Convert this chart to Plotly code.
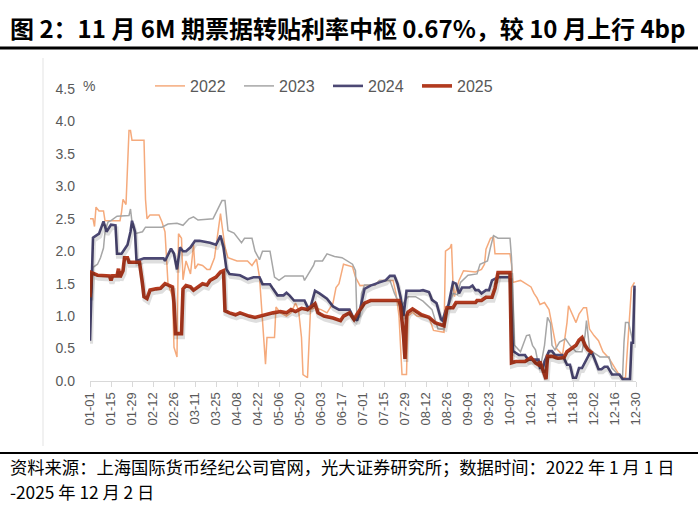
import plotly.graph_objects as go

# x = day offset from 01-01 on a common calendar axis
tick_labels = ["01-01", "01-15", "01-29", "02-12", "02-26", "03-11", "03-25", "04-08", "04-22",
               "05-06", "05-20", "06-03", "06-17", "07-01", "07-15", "07-29", "08-12", "08-26",
               "09-09", "09-23", "10-07", "10-21", "11-04", "11-18", "12-02", "12-16", "12-30"]
tick_days = [14 * i for i in range(len(tick_labels))]

days_2022 = [0, 2, 3, 4, 6, 9, 10, 20, 21, 22, 24, 25, 26, 27, 28, 36, 37, 38, 40, 46,
             48, 50, 52, 55, 56, 58, 59, 61, 62, 64, 67, 69, 70, 72, 75, 78, 80, 83, 85, 87,
             88, 90, 92, 98, 105, 108, 111, 113, 115, 117, 118, 123, 124, 127, 131, 134, 137, 139, 141, 142,
             145, 146, 147, 150, 154, 158, 162, 164, 166, 169, 172, 175, 177, 180, 190, 193, 202, 204, 206, 208,
             211, 212, 215, 218, 226, 229, 236, 237, 240, 241, 242, 243, 246, 249, 257, 261, 263, 264, 267, 269,
             270, 280, 281, 282, 287, 291, 294, 296, 298, 300, 303, 306, 308, 311, 315, 318, 319, 321, 324, 326,
             329, 331, 333, 336, 339, 342, 346, 350, 354, 357, 359, 361, 363]
vals_2022 = [2.5, 2.5, 2.38, 2.68, 2.62, 2.62, 2.47, 2.47, 2.6, 2.8, 2.72, 3.3, 3.86, 3.86, 3.71, 3.71, 2.8, 2.5, 2.56, 2.56,
             2.45, 2.3, 1.5, 1.3, 0.52, 0.37, 2.27, 2.2, 1.56, 1.85, 1.65, 2.1, 1.73, 1.8, 1.78, 1.72, 1.72, 1.9, 2.27, 2.58,
             2.4, 2.06, 1.9, 1.85, 1.85, 1.78, 1.88, 1.6, 0.93, 0.26, 0.67, 0.67, 1.14, 1.05, 1.0, 1.05, 1.2, 1.1, 0.67, 0.1,
             0.05, 0.5, 1.1, 1.13, 1.1, 1.05, 1.2, 1.44, 1.5, 1.8, 1.78, 1.76, 1.6, 1.47, 1.48, 1.55, 1.55, 1.35, 1.0, 0.1,
             0.1, 1.0, 1.06, 1.0, 0.98, 0.78, 0.75, 2.0, 2.05, 2.11, 1.5, 1.3, 1.55, 1.7, 1.68, 1.72, 1.8, 2.03, 2.2, 2.22,
             1.96, 1.96, 1.8, 1.52, 1.55, 1.5, 1.45, 1.35, 1.28, 1.18, 1.21, 1.1, 0.85, 0.5, 0.4, 0.9, 1.16, 1.05, 0.9, 1.03,
             1.13, 1.13, 0.8, 0.7, 0.62, 0.45, 0.35, 0.2, 0.05, 0.05, 0.7, 1.44, 1.52]

days_2023 = [1, 2, 5, 7, 9, 10, 12, 14, 18, 26, 27, 28, 30, 35, 37, 48, 52, 58, 62, 66,
             69, 72, 82, 85, 88, 90, 91, 92, 96, 101, 103, 108, 110, 113, 115, 120, 123, 126, 130, 142,
             143, 145, 149, 150, 155, 158, 163, 168, 172, 175, 177, 178, 180, 181, 183, 190, 193, 200, 203, 205,
             207, 209, 212, 217, 222, 228, 232, 236, 238, 242, 245, 247, 252, 258, 260, 265, 267, 269, 272, 280,
             281, 283, 287, 291, 293, 295, 297, 299, 301, 303, 305, 307, 308, 310, 313, 317, 320, 324, 328, 330,
             331, 333, 335, 337, 340, 346, 348, 352, 355, 356, 357, 359, 360, 362]
vals_2023 = [1.35, 1.75, 1.8, 1.9, 2.05, 2.3, 2.45, 2.47, 2.54, 2.55, 2.65, 2.45, 2.27, 2.3, 2.37, 2.37, 2.42, 2.43, 2.4, 2.5,
             2.53, 2.48, 2.5, 2.63, 2.78, 2.78, 2.5, 2.32, 2.28, 2.13, 2.2, 2.2, 2.0, 1.87, 2.0, 2.0, 1.6, 1.55, 1.62, 1.62,
             1.55, 1.62, 1.78, 1.85, 1.85, 1.96, 1.92, 1.9, 1.84, 1.8, 1.7, 0.93, 1.0, 1.35, 1.48, 1.48, 1.55, 1.55, 1.35, 1.25,
             1.1, 1.2, 1.3, 1.3, 1.23, 1.1, 0.8, 0.8, 1.08, 1.35, 1.33, 1.52, 1.63, 1.65, 1.8, 1.85, 2.06, 2.24, 2.2, 2.2,
             1.9, 0.55, 0.45, 0.7, 0.71, 0.55, 0.48, 0.25, 0.3, 0.55, 0.98, 0.89, 0.55, 0.48, 0.6, 0.65, 0.55, 0.45, 0.45, 0.7,
             0.93, 0.5, 0.45, 0.42, 0.37, 0.37, 0.2, 0.1, 0.05, 0.6, 0.9, 0.9, 0.78, 0.6]

days_2024 = [0, 2, 6, 9, 11, 14, 17, 18, 21, 25, 27, 28, 30, 31, 36, 49, 50, 54, 56, 58,
             60, 62, 64, 67, 70, 73, 80, 84, 87, 89, 91, 93, 100, 105, 109, 113, 115, 120, 122, 125,
             129, 131, 133, 136, 143, 145, 147, 150, 153, 158, 162, 166, 173, 175, 178, 180, 183, 187, 193, 197,
             200, 203, 205, 207, 209, 211, 220, 222, 226, 228, 231, 234, 235, 237, 239, 242, 244, 246, 248, 253,
             255, 257, 259, 261, 264, 266, 268, 270, 272, 280, 282, 286, 290, 292, 296, 299, 300, 302, 303, 306,
             308, 310, 315, 318, 320, 322, 324, 326, 328, 330, 333, 335, 337, 339, 341, 343, 345, 348, 353, 355,
             360, 361, 362, 363]
vals_2024 = [0.62, 2.21, 2.27, 2.46, 2.3, 2.41, 2.4, 1.96, 1.96, 2.1, 2.3, 2.47, 2.3, 1.85, 1.89, 1.89, 1.85, 2.04, 1.96, 1.72,
             2.06, 2.0, 2.0, 2.06, 2.16, 2.16, 2.13, 2.1, 2.24, 2.06, 1.72, 1.65, 1.63, 1.57, 1.6, 1.6, 1.49, 1.49, 1.42, 1.32,
             1.32, 1.36, 1.32, 1.24, 1.24, 1.14, 1.14, 1.39, 1.35, 1.27, 1.15, 1.1, 1.1, 1.0, 0.93, 1.1, 1.42, 1.47, 1.52, 1.55,
             1.62, 1.62, 1.5, 1.3, 1.0, 1.39, 1.39, 1.4, 1.37, 1.25, 1.2, 0.95, 0.93, 1.08, 1.18, 1.52, 1.5, 1.35, 1.44, 1.44,
             1.47, 1.4, 1.4, 1.35, 1.4, 1.4, 1.55, 1.57, 1.6, 1.6, 0.46, 0.4, 0.4, 0.33, 0.33, 0.33, 0.2, 0.2, 0.3, 0.46,
             0.46, 0.4, 0.4, 0.25, 0.25, 0.05, 0.05, 0.2, 0.2, 0.28, 0.42, 0.42, 0.3, 0.18, 0.18, 0.22, 0.22, 0.1, 0.1, 0.03,
             0.03, 0.59, 0.59, 1.47]

days_2025 = [0, 1, 5, 13, 14, 15, 18, 19, 20, 22, 23, 25, 26, 33, 35, 36, 38, 40, 44, 47,
             50, 53, 55, 56, 57, 61, 62, 64, 67, 69, 72, 75, 78, 80, 84, 87, 89, 90, 93, 97,
             100, 103, 106, 110, 113, 118, 122, 127, 131, 134, 137, 141, 145, 150, 152, 156, 162, 167, 169, 173,
             176, 178, 181, 183, 185, 187, 206, 207, 209, 210, 211, 212, 215, 217, 221, 226, 230, 236, 237, 238,
             242, 244, 257, 258, 261, 264, 268, 270, 272, 280, 281, 284, 290, 294, 297, 299, 300, 302, 304, 305,
             308, 312, 316, 318, 322, 324, 326, 328, 330, 332, 335]
vals_2025 = [1.29, 1.67, 1.63, 1.62, 1.55, 1.62, 1.62, 1.73, 1.6, 1.7, 1.9, 1.9, 1.83, 1.83, 1.5, 1.3, 1.27, 1.4, 1.42, 1.43,
             1.5, 1.47, 1.45, 1.2, 0.73, 0.73, 1.42, 1.47, 1.45, 1.4, 1.45, 1.5, 1.48, 1.55, 1.6, 1.68, 1.7, 1.08, 1.05, 1.02,
             1.05, 1.02, 1.0, 0.98, 1.0, 1.02, 1.05, 1.07, 1.05, 1.1, 1.07, 1.12, 1.1, 1.19, 1.05, 1.0, 0.97, 0.93, 1.0, 1.05,
             0.95, 1.03, 1.12, 1.2, 1.22, 1.24, 1.24, 1.16, 0.7, 0.34, 1.0, 1.06, 1.11, 1.08, 1.02, 0.98, 0.9, 0.85, 1.05, 1.13,
             1.13, 1.21, 1.21, 1.24, 1.24, 1.29, 1.29, 1.43, 1.67, 1.67, 0.28, 0.3, 0.3, 0.36, 0.28, 0.25, 0.3, 0.15, 0.03, 0.38,
             0.38, 0.35, 0.36, 0.45, 0.52, 0.55, 0.63, 0.67, 0.55, 0.48, 0.43]

series = [
    ("2022", days_2022, vals_2022, "#F5AA7C", 1.5),
    ("2023", days_2023, vals_2023, "#A6A6A6", 1.5),
    ("2024", days_2024, vals_2024, "#4C4874", 2.6),
    ("2025", days_2025, vals_2025, "#B23A1F", 3.6),
]

W, H = 698, 511
ML, MR, MT, MB = 90, 62, 89, 130
PW, PH = W - ML - MR, H - MT - MB
X_RANGE = [0, 364]
Y_RANGE = [0, 4.5]
# drop-shadow offset in pixels (right, down)
SDX, SDY = 1.0, 3.0
upx = (X_RANGE[1] - X_RANGE[0]) / PW
upy = (Y_RANGE[1] - Y_RANGE[0]) / PH


def px(x):
    return (x - ML) / PW


def py(y):
    return (H - MB - y) / PH


fig = go.Figure()
for name, d, v, c, w in series:
    assert len(d) == len(v), name
    if name in ("2024", "2025"):
        fig.add_trace(go.Scatter(x=d, y=v, mode="lines", showlegend=False, hoverinfo="skip",
                                 xaxis="x2", yaxis="y2",
                                 line=dict(color="rgba(0,0,0,0.13)", width=w + 1.5)))
    fig.add_trace(go.Scatter(x=d, y=v, name=name, mode="lines", line=dict(color=c, width=w)))

CJK = "Noto Sans CJK SC"
fig.update_layout(
    width=W, height=H,
    margin=dict(l=ML, r=MR, t=MT, b=MB),
    paper_bgcolor="white", plot_bgcolor="white",
    font=dict(family="Liberation Sans, Arial", color="#595959"),
    showlegend=True,
    legend=dict(orientation="h", x=px(150), y=py(86), xanchor="left", yanchor="middle",
                font=dict(size=16, color="#595959"), bgcolor="rgba(0,0,0,0)",
                entrywidth=44, entrywidthmode="pixels", itemwidth=30, tracegroupgap=0),
    xaxis=dict(range=X_RANGE, tickmode="array", tickvals=tick_days, ticktext=tick_labels,
               tickangle=-90, tickfont=dict(size=13, color="#595959"), showgrid=False,
               zeroline=False, showline=True, linecolor="#D9D9D9", linewidth=1,
               ticks="outside", ticklen=5, tickcolor="#D9D9D9"),
    yaxis=dict(range=Y_RANGE, dtick=0.5, tickformat=".1f", showgrid=False, zeroline=False,
               showline=False, tickfont=dict(size=14, color="#595959"), ticks="",
               ticklabelstandoff=14),
    xaxis2=dict(range=[X_RANGE[0] - SDX * upx, X_RANGE[1] - SDX * upx], overlaying="x",
                visible=False),
    yaxis2=dict(range=[Y_RANGE[0] + SDY * upy, Y_RANGE[1] + SDY * upy], overlaying="y",
                visible=False),
    annotations=[
        dict(text="<b>图 2：11 月 6M 期票据转贴利率中枢 0.67%，较 10 月上行 4bp</b>",
             x=px(8), y=py(27), xref="paper", yref="paper", xanchor="left", yanchor="middle",
             showarrow=False, font=dict(family=CJK, size=24, color="black")),
        dict(text="%", x=px(89), y=py(86), xref="paper", yref="paper", xanchor="center",
             yanchor="middle", showarrow=False, font=dict(size=14, color="#595959")),
        dict(text="资料来源：上海国际货币经纪公司官网，光大证券研究所；数据时间：2022 年 1 月 1 日",
             x=px(8), y=py(466), xref="paper", yref="paper", xanchor="left", yanchor="middle",
             showarrow=False, font=dict(family=CJK, size=17.3, color="black")),
        dict(text="-2025 年 12 月 2 日",
             x=px(8), y=py(491), xref="paper", yref="paper", xanchor="left", yanchor="middle",
             showarrow=False, font=dict(family=CJK, size=17.3, color="black")),
    ],
    shapes=[
        dict(type="line", xref="paper", yref="paper", x0=px(0), x1=px(W), y0=py(48), y1=py(48),
             line=dict(color="black", width=3)),
        dict(type="line", xref="paper", yref="paper", x0=px(0), x1=px(W), y0=py(453), y1=py(453),
             line=dict(color="black", width=2)),
        dict(type="line", xref="paper", yref="paper", x0=px(43), x1=px(43), y0=py(58), y1=py(446),
             line=dict(color="#E3E3E3", width=1)),
    ],
)

fig.write_html("out.html", config={"displayModeBar": False},
               post_script="document.body.style.margin='0';")
